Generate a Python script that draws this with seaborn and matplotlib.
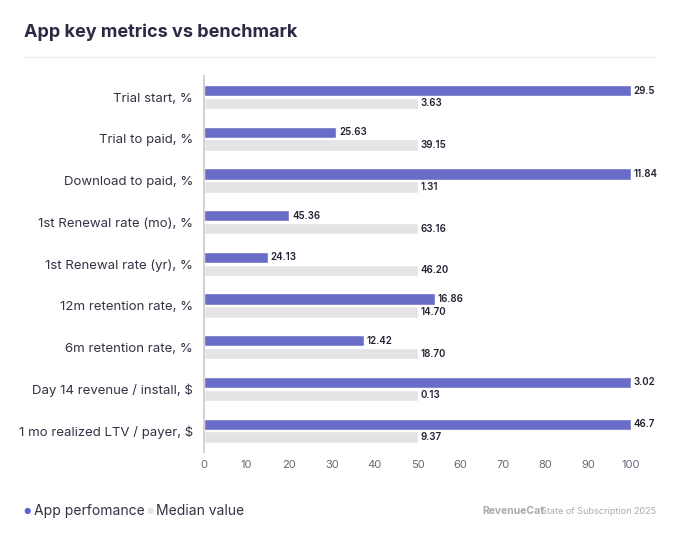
import matplotlib
matplotlib.use('Agg')
import matplotlib.pyplot as plt
import seaborn as sns
import pandas as pd

metrics = ['Trial start, %', 'Trial to paid, %', 'Download to paid, %',
           '1st Renewal rate (mo), %', '1st Renewal rate (yr), %',
           '12m retention rate, %', '6m retention rate, %',
           'Day 14 revenue / install, $', '1 mo realized LTV / payer, $']
# bar lengths on the 0-100 index scale
app_index = [100, 31, 100, 20, 15, 54, 37.5, 100, 100]
median_index = [50, 50, 50, 50, 50, 50, 50, 50, 50]
# printed values
app_labels = ['29.5', '25.63', '11.84', '45.36', '24.13', '16.86', '12.42', '3.02', '46.7']
median_labels = ['3.63', '39.15', '1.31', '63.16', '46.20', '14.70', '18.70', '0.13', '9.37']

blue = '#5b5fd6'
grey = '#e3e3e8'

df = pd.DataFrame({
    'metric': metrics * 2,
    'value': app_index + median_index,
    'series': ['App perfomance'] * 9 + ['Median value'] * 9,
})

sns.set_theme(style='white')
plt.rcParams['font.family'] = ['Inter', 'DejaVu Sans']

fig = plt.figure(figsize=(6.8, 5.44), dpi=100)
ax = fig.add_axes([0.30, 0.17, 0.628, 0.69])
sns.barplot(data=df, y='metric', x='value', hue='series', palette=[blue, grey],
            orient='h', width=0.62, gap=0.12, legend=False, ax=ax)

for cont, labels in zip(ax.containers, [app_labels, median_labels]):
    ax.bar_label(cont, labels=labels, padding=2, fontsize=7, color='#222233',
                 fontweight='semibold')

ax.set_xlim(0, 100)
ax.set_xticks(range(0, 101, 10))
ax.set_xlabel('')
ax.set_ylabel('')
ax.tick_params(axis='x', labelsize=8, colors='#666677', length=0, pad=6)
ax.tick_params(axis='y', labelsize=9.5, colors='#333344', length=0, pad=8)
for s in ['top', 'right', 'bottom']:
    ax.spines[s].set_visible(False)
ax.spines['left'].set_color('#cccccc')
ax.grid(False)

fig.text(0.035, 0.94, 'App key metrics vs benchmark', fontsize=13, fontweight='bold',
         color='#2a2a44', va='center')
fig.add_artist(plt.Line2D([0.035, 0.965], [0.895, 0.895], color='#eeeeee', lw=1))

fig.text(0.035, 0.06, '●', fontsize=6, color=blue, va='center')
fig.text(0.05, 0.06, 'App perfomance', fontsize=10, color='#333344', va='center')
fig.text(0.215, 0.06, '●', fontsize=6, color=grey, va='center')
fig.text(0.23, 0.06, 'Median value', fontsize=10, color='#333344', va='center')
fig.text(0.71, 0.06, 'RevenueCat', fontsize=7.5, fontweight='bold', color='#aaaaaa',
         va='center')
fig.text(0.965, 0.06, 'State of Subscription 2025', fontsize=6.5, color='#aaaaaa',
         va='center', ha='right')

fig.savefig('out.png', dpi=100, facecolor='white')
